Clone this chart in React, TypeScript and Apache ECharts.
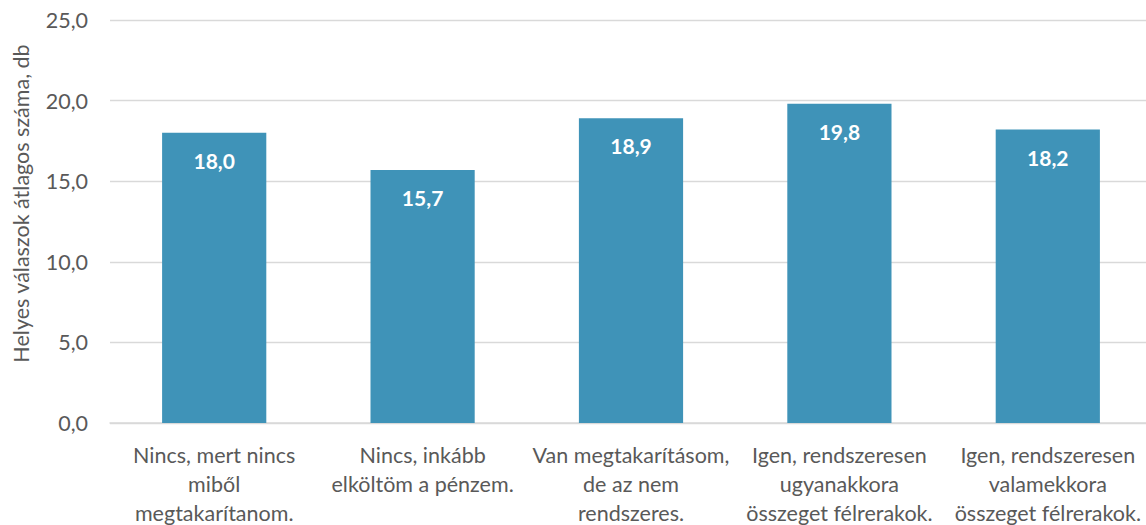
import React, { useEffect, useRef } from "react";
import * as echarts from "echarts";

const categories = [
  "Nincs, mert nincs\nmiből\nmegtakarítanom.",
  "Nincs, inkább\nelköltöm a pénzem.",
  "Van megtakarításom,\nde az nem\nrendszeres.",
  "Igen, rendszeresen\nugyanakkora\nösszeget félrerakok.",
  "Igen, rendszeresen\nvalamekkora\nösszeget félrerakok.",
];
const values = [18.0, 15.7, 18.9, 19.8, 18.2];
const yAxisName = "Helyes válaszok átlagos száma, db";

const fmt = (v: number) => v.toFixed(1).replace(".", ",");
const FONT = "Lato, 'Open Sans', sans-serif";

export default function App() {
  const ref = useRef<HTMLDivElement>(null);
  useEffect(() => {
    document.body.style.margin = "0";
    const chart = echarts.init(ref.current!, undefined, { renderer: "svg" });
    chart.setOption({
      animation: false,
      textStyle: { fontFamily: FONT },
      grid: {
        left: 110,
        right: -6,
        top: 20,
        bottom: 102,
        containLabel: false,
        outerBoundsMode: "none",
      },
      xAxis: {
        type: "category",
        data: categories,
        axisLine: { show: true, lineStyle: { color: "#D9D9D9", width: 1.5 } },
        axisTick: { show: false },
        axisLabel: {
          interval: 0,
          color: "#595959",
          fontSize: 21.5,
          lineHeight: 29,
          margin: 17,
          fontFamily: FONT,
        },
      },
      yAxis: {
        type: "value",
        min: 0,
        max: 25,
        interval: 5,
        name: yAxisName,
        nameLocation: "middle",
        nameGap: 78,
        nameRotate: 90,
        nameTextStyle: {
          color: "#595959",
          fontSize: 21.5,
          fontFamily: FONT,
          padding: [0, 0, 0, 36],
        },
        axisLine: { show: false },
        axisTick: { show: false },
        axisLabel: {
          color: "#595959",
          fontSize: 21.5,
          margin: 22,
          formatter: (v: number) => fmt(v),
          fontFamily: FONT,
        },
        splitLine: { lineStyle: { color: "#D9D9D9", width: 1.3 } },
      },
      series: [
        {
          type: "bar",
          data: values,
          barCategoryGap: "50%",
          itemStyle: { color: "#3F93B8" },
          label: {
            show: true,
            position: "insideTop",
            distance: 17,
            color: "#FFFFFF",
            fontWeight: "bold",
            fontSize: 21,
            fontFamily: FONT,
            formatter: (p: any) => fmt(p.value),
          },
        },
      ],
    });
    return () => chart.dispose();
  }, []);
  return <div ref={ref} style={{ width: 1146, height: 525 }} />;
}
